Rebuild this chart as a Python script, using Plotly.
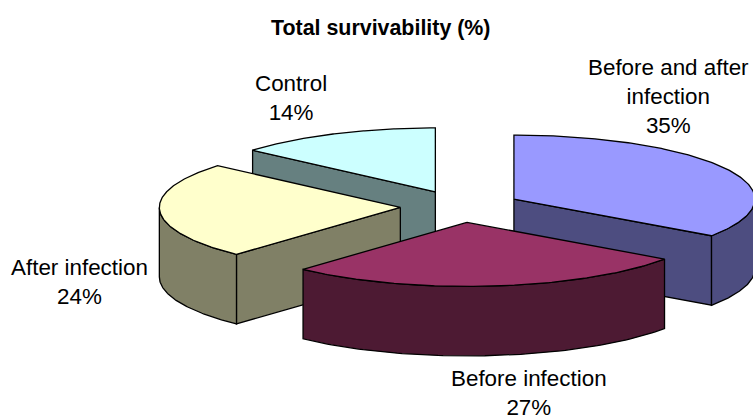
import numpy as np
import plotly.graph_objects as go

# Data
categories = ["Before and after<br>infection", "Before infection", "After infection", "Control"]
values = [34.7, 27.2, 24.4, 13.7]
title_text = "Total survivability (%)"

# Style
top_colors = ["#9999FF", "#993366", "#FFFFCC", "#CCFFFF"]
side_colors = ["#4D4D80", "#4D1A33", "#808066", "#668080"]
CX, CY, RX, RY, DEPTH, EXPLODE = 460.5, 206.5, 241, 64, 69.5, 0.25
FONT = "Liberation Sans, Arial, sans-serif"
label_anchor = [(668, 96), (529, 392.5), (79.5, 282), (291, 98)]

fracs = np.array(values, dtype=float) / sum(values)
stops = np.concatenate([[0], np.cumsum(fracs)]) * 360.0


def pt(c, a):
    r = np.radians(a)
    return c[0] + RX * np.sin(r), c[1] - RY * np.cos(r)


def add_poly(fig, xs, ys, color):
    xs, ys = list(xs), list(ys)
    fig.add_trace(go.Scatter(
        x=xs + xs[:1], y=ys + ys[:1], mode="lines", fill="toself",
        fillcolor=color, line=dict(color="#000000", width=1.3),
        hoverinfo="skip", showlegend=False))


fig = go.Figure()
draw_order = [3, 0, 2, 1]  # back to front

for i in draw_order:
    a, b = stops[i], stops[i + 1]
    mid = np.radians((a + b) / 2)
    c = (CX + EXPLODE * RX * np.sin(mid), CY - EXPLODE * RY * np.cos(mid))

    # visible radial side walls
    for ang, visible in ((a, np.sin(np.radians(a)) < -1e-9), (b, np.sin(np.radians(b)) > 1e-9)):
        if visible:
            px, py = pt(c, ang)
            add_poly(fig, [c[0], px, px, c[0]], [c[1], py, py + DEPTH, c[1] + DEPTH], side_colors[i])

    # visible outer wall (front half of the ellipse)
    lo, hi = max(a, 90), min(b, 270)
    if hi > lo:
        th = np.linspace(lo, hi, 80)
        ox, oy = pt(c, th)
        add_poly(fig, np.concatenate([ox, ox[::-1]]), np.concatenate([oy, oy[::-1] + DEPTH]), side_colors[i])

    # top face
    th = np.linspace(a, b, 160)
    tx, ty = pt(c, th)
    add_poly(fig, np.concatenate([[c[0]], tx]), np.concatenate([[c[1]], ty]), top_colors[i])

annotations = [dict(x=381, y=28, xref="x", yref="y", text=f"<b>{title_text}</b>", showarrow=False,
                    font=dict(family=FONT, size=21.4, color="#000000"))]
for name, v, (lx, ly) in zip(categories, values, label_anchor):
    annotations.append(dict(x=lx, y=ly, xref="x", yref="y", text=f"{name}<br>{round(v)}%", showarrow=False,
                            align="center", font=dict(family=FONT, size=22.4, color="#000000")))

fig.update_layout(
    width=753, height=415, margin=dict(l=0, r=0, t=0, b=0),
    paper_bgcolor="#FFFFFF", plot_bgcolor="#FFFFFF", showlegend=False,
    xaxis=dict(range=[0, 753], visible=False, fixedrange=True),
    yaxis=dict(range=[415, 0], visible=False, fixedrange=True),
    annotations=annotations,
)
fig.write_html("out.html", config={"displayModeBar": False},
               post_script="document.body.style.margin='0';document.documentElement.style.overflow='hidden';")
